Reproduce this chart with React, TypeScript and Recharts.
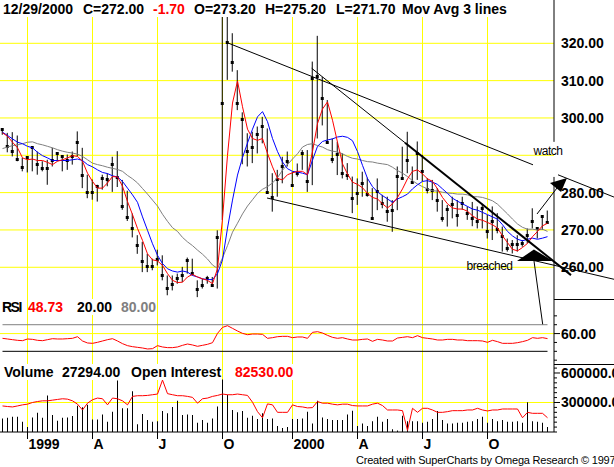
import React from 'react';
import { Bar, CartesianGrid, ComposedChart, Line, ReferenceArea, ReferenceLine, XAxis, YAxis } from 'recharts';

const FONT = '"Liberation Sans", Arial, Helvetica, sans-serif';
const GRID = '#FFFF00';

// weekly bars from late Nov 1998 to 29 Dec 2000; quarter starts fall on these bar indexes
const quarterTicks = [5, 18, 31, 44, 58, 71, 84, 97];
const quarterLabels = ['1999', 'A', 'J', 'O', '2000', 'A', 'J', 'O'];
const priceTicks = [260, 270, 280, 290, 300, 310, 320];
const rsiTicks = [0, 20, 40, 60, 80, 100];
const volumeTicks = [0, 50000, 100000, 150000, 200000, 250000, 300000, 350000, 400000, 450000, 500000, 550000, 600000, 650000];

const highs = [
  297.3, 296.0, 296.2, 295.3, 289.3, 289.7, 292.4, 291.0, 288.4, 288.8,
  292.0, 290.6, 289.7, 290.2, 291.0, 296.4, 292.0, 284.8, 283.5, 282.1,
  284.8, 285.2, 289.6, 291.1, 283.4, 280.5, 274.4, 268.6, 266.8, 263.6,
  262.3, 264.7, 263.2, 257.8, 257.8, 258.3, 260.1, 262.6, 262.3, 256.5,
  256.9, 257.7, 257.4, 269.9, 327.1, 328.1, 322.7, 312.8, 301.5, 295.9,
  296.3, 297.7, 300.3, 297.2, 285.2, 286.1, 289.6, 291.0, 285.6, 287.8,
  291.4, 291.4, 315.1, 322.0, 311.0, 304.8, 294.5, 293.6, 290.5, 287.9,
  284.3, 283.8, 285.6, 284.0, 281.2, 283.8, 279.4, 278.9, 278.0, 287.0,
  292.3, 296.3, 287.0, 293.7, 290.1, 283.9, 283.4, 281.2, 278.0, 276.7,
  278.9, 278.0, 278.9, 276.3, 277.5, 276.3, 277.0, 274.0, 276.3, 274.5,
  270.9, 267.7, 267.3, 268.6, 267.3, 270.4, 275.8, 270.4, 274.0, 275.2,
];
const lows = [
  295.5, 290.8, 289.7, 288.4, 285.7, 285.4, 285.7, 284.8, 285.7, 282.1,
  287.0, 288.4, 285.7, 286.1, 287.5, 289.7, 281.2, 278.5, 278.1, 277.6,
  280.8, 281.7, 280.2, 281.5, 275.4, 272.4, 268.0, 263.6, 258.7, 258.7,
  259.2, 260.5, 256.5, 252.5, 253.8, 255.6, 256.0, 258.3, 257.8, 252.0,
  254.3, 255.6, 254.7, 254.3, 272.7, 310.2, 312.4, 302.1, 287.6, 287.0,
  287.9, 290.5, 293.2, 279.8, 274.9, 278.9, 282.5, 287.0, 281.6, 284.3,
  286.1, 280.2, 282.0, 294.5, 298.0, 293.2, 287.9, 284.7, 283.8, 283.4,
  274.5, 276.7, 278.9, 278.9, 272.7, 275.3, 275.8, 272.2, 269.5, 275.3,
  283.4, 285.2, 282.5, 283.4, 283.0, 279.8, 278.0, 274.9, 272.2, 270.9,
  273.1, 270.9, 275.4, 272.7, 271.0, 270.4, 270.4, 267.7, 267.3, 269.1,
  264.2, 264.2, 263.7, 264.2, 265.5, 266.4, 270.4, 267.7, 270.0, 271.7,
];
const closes = [
  296.8, 292.3, 290.9, 288.8, 286.6, 289.4, 292.0, 287.5, 286.5, 286.4,
  288.6, 290.4, 289.7, 288.6, 289.7, 293.5, 284.6, 279.9, 279.9, 281.7,
  283.9, 283.6, 287.6, 284.0, 276.2, 273.3, 270.4, 265.9, 261.6, 260.3,
  260.3, 262.0, 257.8, 254.4, 255.3, 256.9, 257.8, 261.8, 258.3, 254.0,
  255.0, 257.1, 255.0, 267.9, 303.8, 320.2, 314.9, 304.0, 299.5, 291.0,
  292.1, 295.7, 297.7, 280.0, 278.7, 283.4, 287.0, 288.3, 282.0, 285.0,
  290.5, 282.9, 310.6, 311.0, 305.3, 293.5, 288.9, 290.3, 285.2, 284.7,
  278.3, 279.8, 282.5, 279.6, 273.1, 280.3, 277.1, 274.9, 275.2, 284.3,
  283.8, 288.7, 282.7, 290.6, 285.7, 280.9, 280.7, 278.0, 273.1, 275.4,
  276.7, 274.0, 277.2, 274.5, 273.1, 272.2, 275.8, 269.5, 272.2, 270.0,
  268.2, 265.0, 266.0, 266.2, 266.4, 268.6, 272.2, 270.4, 273.7, 272.0,
];
// the three moving averages as drawn (red fast, blue medium, grey slow)
const maFast = [
  296.0, 295.1, 293.5, 292.0, 289.3, 288.8, 289.0, 288.6, 288.6, 288.1,
  287.5, 288.4, 288.8, 289.3, 289.9, 289.7, 288.4, 285.2, 283.0, 281.2,
  281.2, 282.6, 284.3, 284.2, 281.7, 277.6, 274.1, 270.4, 267.2, 263.6,
  262.0, 261.7, 260.5, 258.3, 256.5, 255.9, 256.0, 257.4, 258.1, 257.4,
  256.9, 256.5, 255.6, 259.6, 273.0, 290.0, 304.0, 309.9, 303.0, 297.0,
  294.5, 294.0, 294.5, 290.5, 286.9, 283.8, 283.4, 284.8, 285.3, 285.7,
  285.7, 284.8, 291.0, 298.5, 302.4, 304.3, 299.4, 293.5, 287.7, 285.0,
  282.8, 282.2, 281.3, 279.8, 278.7, 278.3, 277.0, 275.9, 277.0, 278.7,
  281.0, 283.7, 285.7, 286.1, 285.0, 283.7, 283.0, 281.0, 278.7, 277.0,
  275.9, 275.6, 275.6, 275.0, 273.8, 272.9, 272.6, 272.0, 271.4, 270.5,
  268.4, 266.6, 264.8, 264.4, 265.3, 266.4, 268.2, 269.6, 271.1, 271.8,
];
const maMid = [
  296.2, 295.3, 294.4, 293.5, 293.1, 292.4, 292.0, 290.8, 289.9, 289.3,
  288.6, 288.6, 288.6, 288.6, 288.8, 289.0, 288.6, 287.5, 286.9, 286.1,
  285.4, 285.1, 284.5, 284.2, 283.0, 281.2, 279.4, 277.4, 273.5, 269.9,
  266.3, 263.2, 261.0, 259.6, 259.0, 258.7, 259.0, 258.7, 257.8, 257.4,
  256.9, 256.7, 256.7, 258.3, 262.0, 270.5, 278.0, 284.7, 289.4, 293.3,
  297.0, 300.3, 301.7, 299.0, 294.5, 291.0, 288.2, 286.4, 285.7, 285.5,
  285.2, 284.8, 288.7, 292.4, 293.7, 294.1, 294.4, 294.9, 295.1, 294.8,
  293.9, 291.0, 287.3, 283.8, 281.6, 280.2, 279.2, 278.3, 277.4, 278.3,
  278.9, 279.6, 281.0, 282.1, 283.0, 283.2, 282.8, 282.2, 281.0, 279.8,
  278.5, 277.7, 277.0, 276.3, 275.6, 275.3, 274.7, 274.1, 273.5, 272.9,
  271.4, 269.6, 268.4, 267.5, 267.1, 267.5, 267.8, 267.5, 267.8, 268.2,
];
const maSlow = [
  291.8, 292.2, 292.6, 292.8, 293.1, 293.5, 293.6, 293.1, 292.8, 292.4,
  292.0, 291.5, 291.1, 290.8, 290.6, 290.3, 289.7, 288.8, 287.9, 287.5,
  287.2, 286.8, 286.5, 286.2, 285.7, 284.6, 283.7, 282.6, 281.1, 279.6,
  278.0, 276.4, 274.2, 272.3, 270.6, 269.6, 268.0, 266.8, 265.8, 264.6,
  263.5, 262.2, 260.6, 259.7, 262.5, 265.8, 269.4, 271.8, 274.3, 276.4,
  278.1, 279.8, 280.9, 281.6, 282.6, 284.0, 286.0, 287.5, 289.0, 290.4,
  292.2, 292.9, 293.1, 292.6, 292.2, 291.5, 291.1, 290.9, 290.4, 289.7,
  289.2, 289.0, 288.6, 288.3, 288.2, 287.9, 287.7, 287.5, 286.8, 285.9,
  285.2, 284.3, 283.2, 282.3, 281.6, 281.0, 280.5, 280.4, 280.1, 279.9,
  279.8, 279.6, 279.6, 279.4, 278.9, 278.9, 278.7, 278.3, 277.8, 276.9,
  275.6, 274.3, 272.9, 271.6, 270.7, 270.2, 270.2, 270.0, 270.2, 269.6,
];
const rsiValues = [
  49.3, 47.8, 46.3, 44.8, 44.0, 47.8, 47.0, 44.8, 44.0, 46.3,
  48.5, 47.8, 47.8, 48.5, 49.3, 53.0, 43.3, 38.8, 38.0, 40.3,
  43.3, 46.3, 48.5, 43.3, 37.3, 32.8, 30.5, 29.0, 27.5, 25.3,
  26.0, 32.8, 29.8, 28.3, 28.3, 29.8, 33.5, 36.5, 34.3, 31.3,
  33.5, 35.8, 39.5, 60.5, 74.0, 77.8, 71.8, 65.8, 60.5, 57.5,
  59.0, 59.0, 58.3, 49.3, 50.8, 53.0, 53.8, 53.8, 50.8, 52.3,
  52.3, 49.3, 62.8, 64.3, 61.3, 56.0, 51.5, 49.3, 50.8, 47.8,
  45.5, 45.5, 47.0, 47.8, 42.5, 47.0, 45.5, 43.3, 43.3, 50.0,
  51.5, 53.0, 50.8, 55.3, 50.8, 49.3, 47.8, 45.5, 45.5, 47.0,
  47.0, 45.5, 45.5, 44.0, 44.0, 44.0, 43.3, 40.3, 44.8, 41.8,
  38.0, 38.0, 38.0, 39.5, 41.8, 44.8, 50.8, 49.3, 50.8, 48.7,
];
const volumes = [
  138000, 145000, 155000, 155000, 103000, 52000, 148000, 197000, 145000, 372000,
  172000, 114000, 145000, 148000, 162000, 266000, 252000, 276000, 128000, 128000,
  179000, 103000, 207000, 524000, 241000, 241000, 414000, 79000, 183000, 121000,
  103000, 110000, 214000, 190000, 255000, 317000, 172000, 179000, 172000, 93000,
  121000, 93000, 138000, 259000, 534000, 379000, 224000, 200000, 214000, 145000,
  166000, 131000, 190000, 131000, 138000, 62000, 41000, 52000, 131000, 131000,
  138000, 207000, 86000, 317000, 148000, 131000, 121000, 121000, 121000, 179000,
  217000, 62000, 86000, 62000, 110000, 155000, 103000, 131000, 28000, 15000,
  166000, 110000, 110000, 110000, 93000, 103000, 131000, 214000, 121000, 86000,
  86000, 93000, 93000, 103000, 110000, 131000, 155000, 93000, 131000, 110000,
  121000, 103000, 103000, 110000, 93000, 303000, 110000, 103000, 93000, 52000,
];
const openInterest = [
  265000, 259000, 255000, 265000, 276000, 283000, 300000, 310000, 317000, 317000,
  324000, 331000, 338000, 334000, 317000, 283000, 224000, 293000, 328000, 345000,
  338000, 276000, 345000, 338000, 317000, 276000, 362000, 369000, 369000, 372000,
  379000, 386000, 528000, 390000, 379000, 369000, 369000, 362000, 352000, 293000,
  338000, 345000, 362000, 372000, 386000, 379000, 379000, 386000, 379000, 372000,
  303000, 207000, 145000, 286000, 276000, 200000, 200000, 200000, 276000, 259000,
  255000, 245000, 248000, 310000, 293000, 293000, 283000, 276000, 283000, 283000,
  269000, 265000, 265000, 265000, 283000, 293000, 269000, 224000, 224000, 224000,
  217000, 17000, 241000, 200000, 241000, 241000, 224000, 200000, 200000, 207000,
  217000, 217000, 217000, 224000, 224000, 241000, 224000, 214000, 224000, 224000,
  234000, 234000, 234000, 234000, 145000, 200000, 190000, 190000, 190000, 145000,
];

const weeks = highs.map((high, i) => ({
  i,
  high,
  low: lows[i],
  close: closes[i],
  fast: maFast[i],
  mid: maMid[i],
  slow: maSlow[i],
  rsi: rsiValues[i],
  volume: volumes[i],
  oi: openInterest[i],
}));

const X_DOMAIN: [number, number] = [-0.5, 109.5];
const X_PAD = { left: 0, right: 4 };
const AXIS_X = 110.3; // right edge of the plot, where the scales sit
const FLAT = { top: 0, right: 0, bottom: 0, left: 0 };

function PriceBar(props: any) {
  const { x, y, width, height, payload } = props;
  if (!payload) return null;
  const top = Math.min(y, y + height);
  const h = Math.abs(height);
  const cx = x + width / 2;
  const span = payload.high - payload.low || 1;
  const cy = top + (h * (payload.high - payload.close)) / span;
  return (
    <g>
      <line x1={cx} x2={cx} y1={top} y2={top + h} stroke="#000" strokeWidth={1} />
      <rect x={cx - 1.5} y={Math.round(cy - 1.5)} width={3} height={3} fill="#000" />
    </g>
  );
}

function PriceTick({ x, y, payload }: any) {
  if (payload.value === 290) return <g />; // hidden behind the 'watch' note
  return (
    <text x={x + 7} y={y} dy="0.355em" fontFamily={FONT} fontSize={14} fontWeight="bold" fill="#000">
      {payload.value.toFixed(2)}
    </text>
  );
}

function ScaleTick({ x, y, payload, major }: any) {
  const isMajor = major.includes(payload.value);
  return (
    <g>
      <line x1={x} x2={x + (isMajor ? 6 : 3)} y1={y} y2={y} stroke="#000" />
      {isMajor && (
        <text x={x + 7} y={y} dy="0.355em" fontFamily={FONT} fontSize={14} fontWeight="bold" fill="#000">
          {payload.value.toFixed(2)}
        </text>
      )}
    </g>
  );
}

function QuarterTick({ x, y, payload }: any) {
  const label = quarterLabels[quarterTicks.indexOf(payload.value)];
  return (
    <text x={x + 1} y={y} dy="0.71em" fontFamily={FONT} fontSize={14} fontWeight="bold" fill="#000">
      {label}
    </text>
  );
}

const areaText = (text: string) => (p: any) => (
  <text x={p.x + p.width / 2} y={p.y + p.height / 2} dy="0.355em" textAnchor="middle" fontFamily={FONT} fontSize={12} letterSpacing={-0.5} fill="#000">
    {text}
  </text>
);

const areaPolygon = (pts: [number, number][]) => (p: any) => (
  <polygon points={pts.map(([fx, fy]) => `${p.x + fx * p.width},${p.y + fy * p.height}`).join(' ')} fill="#000" />
);

function Caption({ x, y, color = '#000', tight = 0, children }: any) {
  return (
    <span style={{ position: 'absolute', left: x, top: y, fontFamily: FONT, fontSize: 14, fontWeight: 'bold', lineHeight: '16px', letterSpacing: tight ? `${tight}px` : undefined, color, background: '#fff', whiteSpace: 'nowrap' }}>
      {children}
    </span>
  );
}

function PricePanel() {
  return (
    <ComposedChart width={614} height={299} data={weeks} margin={FLAT}>
      <CartesianGrid stroke={GRID} verticalValues={quarterTicks} horizontalValues={priceTicks} />
      <XAxis xAxisId="cat" dataKey="i" type="category" hide padding={X_PAD} />
      <XAxis dataKey="i" type="number" domain={X_DOMAIN} ticks={quarterTicks} hide padding={X_PAD} allowDataOverflow />
      <YAxis orientation="right" width={60} domain={[251.5, 331.6]} ticks={priceTicks} interval={0} allowDataOverflow axisLine={false} tickLine={false} tickSize={0} tickMargin={0} tick={(p: any) => <PriceTick {...p} />} />
      <Bar xAxisId="cat" dataKey={(d: any) => [d.low, d.high]} barSize={5} shape={(p: any) => <PriceBar {...p} />} isAnimationActive={false} />
      <Line dataKey="slow" stroke="#808080" strokeWidth={1} dot={false} isAnimationActive={false} />
      <Line dataKey="mid" stroke="#0000FF" strokeWidth={1} dot={false} isAnimationActive={false} />
      <Line dataKey="fast" stroke="#FF0000" strokeWidth={1} dot={false} isAnimationActive={false} />

      {/* price scale line, broken behind the 'watch' note */}
      <ReferenceLine segment={[{ x: AXIS_X, y: 331.6 }, { x: AXIS_X, y: 293.6 }]} stroke="#000" ifOverflow="visible" />
      <ReferenceLine segment={[{ x: AXIS_X, y: 284.2 }, { x: AXIS_X, y: 251.5 }]} stroke="#000" ifOverflow="visible" />

      {/* hand-drawn trend lines */}
      <ReferenceLine segment={[{ x: 44.96, y: 320.16 }, { x: 106.1, y: 287.45 }]} stroke="#000" ifOverflow="visible" />
      <ReferenceLine segment={[{ x: 111.1, y: 284.77 }, { x: 122.3, y: 278.8 }]} stroke="#000" ifOverflow="visible" />
      <ReferenceLine segment={[{ x: 61.84, y: 313.3 }, { x: 80.5, y: 293.37 }]} stroke="#000" ifOverflow="visible" />
      <ReferenceLine segment={[{ x: 80.5, y: 293.37 }, { x: 113.7, y: 257.9 }]} stroke="#000" strokeWidth={2} ifOverflow="visible" />
      <ReferenceLine segment={[{ x: 52.9, y: 278.56 }, { x: 122.3, y: 256.78 }]} stroke="#000" ifOverflow="visible" />
      <ReferenceLine segment={[{ x: 106.3, y: 261.68 }, { x: 107.34, y: 251.5 }]} stroke="#000" ifOverflow="visible" />
      <ReferenceLine segment={[{ x: 106.9, y: 274.27 }, { x: 110.9, y: 281.24 }]} stroke="#000" ifOverflow="visible" />

      <ReferenceArea x1={102.9} x2={110.1} y1={261.68} y2={264.76} ifOverflow="visible" shape={areaPolygon([[0, 1], [1, 1], [0.47, 0]])} />
      <ReferenceArea x1={109.5} x2={112.9} y1={280.17} y2={283.92} ifOverflow="visible" shape={areaPolygon([[0, 0.36], [1, 0], [0.65, 1]])} />
      <ReferenceArea x1={106.3} x2={111.9} y1={289.54} y2={292.76} ifOverflow="visible" shape={areaText('watch')} />
      <ReferenceArea x1={92.9} x2={101.9} y1={259.0} y2={261.95} ifOverflow="visible" shape={areaText('breached')} />
    </ComposedChart>
  );
}

function RsiPanel() {
  return (
    <ComposedChart width={614} height={65} data={weeks} margin={FLAT}>
      <CartesianGrid stroke={GRID} verticalValues={quarterTicks} horizontalValues={[60]} />
      <XAxis dataKey="i" type="number" domain={X_DOMAIN} ticks={quarterTicks} hide padding={X_PAD} allowDataOverflow />
      <YAxis orientation="right" width={60} domain={[-8.6, 138]} ticks={rsiTicks} interval={0} allowDataOverflow axisLine={{ stroke: '#000' }} tickLine={false} tickSize={0} tickMargin={0} tick={(p: any) => <ScaleTick {...p} major={[60]} />} />
      <ReferenceLine segment={[{ x: 0, y: 80 }, { x: 109, y: 80 }]} stroke="#808080" />
      <ReferenceLine segment={[{ x: 0, y: 20 }, { x: 109, y: 20 }]} stroke="#000" />
      <Line dataKey="rsi" stroke="#FF0000" strokeWidth={1} dot={false} isAnimationActive={false} />
      <ReferenceLine segment={[{ x: 107.34, y: 138 }, { x: 108.04, y: 80.9 }]} stroke="#000" ifOverflow="visible" />
    </ComposedChart>
  );
}

function VolumePanel() {
  return (
    <ComposedChart width={614} height={103} data={weeks} margin={FLAT}>
      <CartesianGrid stroke={GRID} verticalValues={quarterTicks} horizontalValues={[300000]} />
      <XAxis xAxisId="cat" dataKey="i" type="category" hide padding={X_PAD} />
      <XAxis dataKey="i" type="number" domain={X_DOMAIN} ticks={quarterTicks} interval={0} height={35} padding={X_PAD} allowDataOverflow axisLine={{ stroke: '#000' }} tickLine={{ stroke: '#000' }} tickSize={7} tickMargin={0} tick={(p: any) => <QuarterTick {...p} />} />
      <YAxis orientation="right" width={60} domain={[0, 691500]} ticks={volumeTicks} interval={0} allowDataOverflow axisLine={{ stroke: '#000' }} tickLine={false} tickSize={0} tickMargin={0} tick={(p: any) => <ScaleTick {...p} major={[300000, 600000]} />} />
      <Bar xAxisId="cat" dataKey="volume" barSize={1} fill="#000" isAnimationActive={false} />
      <Line dataKey="oi" stroke="#FF0000" strokeWidth={1} dot={false} isAnimationActive={false} />
    </ComposedChart>
  );
}

export default function App() {
  return (
    <div style={{ position: 'absolute', left: 0, top: 0, width: 614, height: 467, overflow: 'hidden', background: '#fff' }}>
      <div style={{ position: 'absolute', left: 0, top: 0 }}>
        <PricePanel />
      </div>
      <div style={{ position: 'absolute', left: 0, top: 299 }}>
        <RsiPanel />
      </div>
      <div style={{ position: 'absolute', left: 0, top: 364 }}>
        <VolumePanel />
      </div>
      <div style={{ position: 'absolute', left: 554, top: 299, width: 60, height: 1, background: '#000' }} />
      <div style={{ position: 'absolute', left: 554, top: 364, width: 60, height: 1, background: '#000' }} />

      <div style={{ position: 'absolute', left: 0, top: 0, width: 516, height: 17, background: '#fff' }} />
      <Caption x={3} y={1}>12/29/2000</Caption>
      <Caption x={83} y={1}>C=272.00</Caption>
      <Caption x={153} y={1} color="#FF0000">-1.70</Caption>
      <Caption x={194} y={1}>O=273.20</Caption>
      <Caption x={265} y={1}>H=275.20</Caption>
      <Caption x={336} y={1}>L=271.70</Caption>
      <Caption x={402} y={1}>Mov Avg 3 lines</Caption>

      <Caption x={2} y={299} tight={-1.5}>RSI</Caption>
      <Caption x={28} y={299} color="#FF0000">48.73</Caption>
      <Caption x={77} y={299}>20.00</Caption>
      <Caption x={121} y={299} color="#808080">80.00</Caption>

      <Caption x={4} y={364}>Volume</Caption>
      <Caption x={62} y={364}>27294.00</Caption>
      <Caption x={131} y={364}>Open Interest</Caption>
      <Caption x={235} y={364} color="#FF0000">82530.00</Caption>

      <span style={{ position: 'absolute', left: 356, top: 454, fontFamily: FONT, fontSize: 11, letterSpacing: '-0.2px', lineHeight: '13px', whiteSpace: 'nowrap', color: '#000' }}>
        Created with SuperCharts by Omega Research © 1997
      </span>
    </div>
  );
}
